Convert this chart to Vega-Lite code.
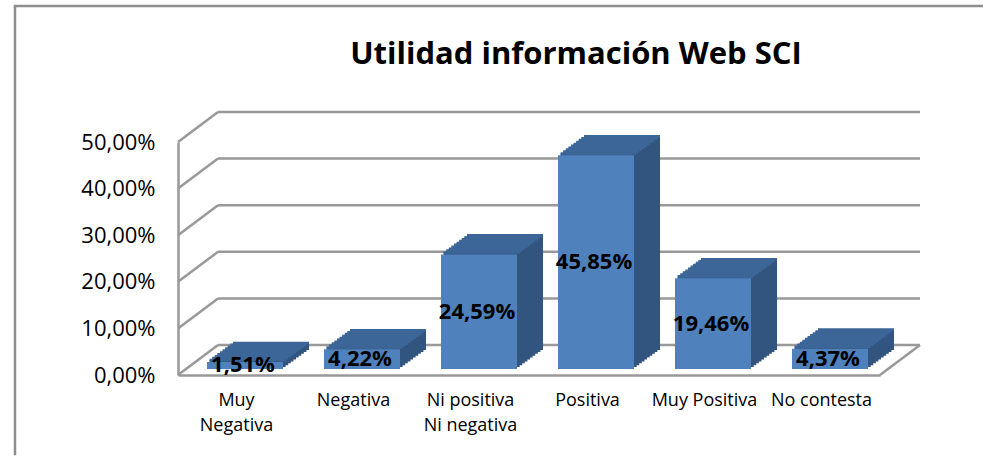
{
  "$schema": "https://vega.github.io/schema/vega-lite/v6.json",
  "width": 702,
  "height": 233,
  "autosize": "none",
  "padding": {"left": 178, "top": 142, "right": 105, "bottom": 82},
  "background": "#FFFFFF",
  "title": {
    "text": "Utilidad información Web SCI",
    "font": "Open Sans",
    "fontSize": 31,
    "fontWeight": "bold",
    "color": "#000000",
    "anchor": "middle",
    "frame": "group",
    "baseline": "alphabetic",
    "offset": 0,
    "dx": 47,
    "dy": 90
  },
  "config": {
    "locale": {"number": {"decimal": ",", "thousands": ".", "grouping": [3], "currency": ["", " €"]}},
    "view": {"stroke": null},
    "axis": {"labelFont": "Open Sans", "labelColor": "#000000", "domainColor": "#999999", "domainWidth": 2.5}
  },
  "datasets": {
    "bars": [
      {"cat": "Muy Negativa", "value": 0.0151},
      {"cat": "Negativa", "value": 0.0422},
      {"cat": "Ni positiva Ni negativa", "value": 0.2459},
      {"cat": "Positiva", "value": 0.4585},
      {"cat": "Muy Positiva", "value": 0.1946},
      {"cat": "No contesta", "value": 0.0437}
    ],
    "grid": [{"v": 0}, {"v": 0.1}, {"v": 0.2}, {"v": 0.3}, {"v": 0.4}, {"v": 0.5}]
  },
  "resolve": {"scale": {"x": "independent", "y": "independent"}},
  "layer": [
    {
      "layer": [
        {
          "data": {"values": [{"frame": "left"}]},
          "mark": {"type": "rule", "color": "#8E8E8E", "strokeWidth": 2.5},
          "encoding": {
            "x": {"datum": -1.39316, "type": "quantitative", "axis": null, "scale": {"domain": [0, 6], "nice": false, "zero": false}},
            "y": {"datum": 0.79185, "type": "quantitative", "axis": null, "title": null, "scale": {"domain": [0, 0.5], "nice": false, "zero": false}},
            "y2": {"datum": -0.172}
          }
        },
        {
          "data": {"values": [{"frame": "top"}]},
          "mark": {"type": "rule", "color": "#8E8E8E", "strokeWidth": 2.5},
          "encoding": {
            "x": {"datum": -1.40385, "type": "quantitative", "axis": null, "scale": {"domain": [0, 6], "nice": false, "zero": false}},
            "x2": {"datum": 6.88},
            "y": {"datum": 0.79185, "type": "quantitative", "axis": null, "title": null, "scale": {"domain": [0, 0.5], "nice": false, "zero": false}}
          }
        },
        {
          "data": {"name": "grid"},
          "mark": {"type": "rule", "color": "#999999", "strokeWidth": 2.5, "xOffset": 40, "x2Offset": 40, "yOffset": -30},
          "encoding": {
            "x": {"datum": 0, "type": "quantitative", "axis": null, "scale": {"domain": [0, 6], "nice": false, "zero": false}},
            "x2": {"datum": 6},
            "y": {"field": "v", "type": "quantitative", "axis": null, "title": null, "scale": {"domain": [0, 0.5], "nice": false, "zero": false}}
          }
        },
        {
          "data": {"name": "grid"},
          "mark": {"type": "rule", "color": "#999999", "strokeWidth": 2.5, "x2Offset": 40, "y2Offset": -30},
          "encoding": {
            "x": {"datum": 0, "type": "quantitative", "axis": null, "scale": {"domain": [0, 6], "nice": false, "zero": false}},
            "x2": {"datum": 0},
            "y": {"field": "v", "type": "quantitative", "axis": null, "title": null, "scale": {"domain": [0, 0.5], "nice": false, "zero": false}},
            "y2": {"field": "v"}
          }
        },
        {
          "data": {"values": [{"edge": "floor"}]},
          "mark": {"type": "rule", "color": "#999999", "strokeWidth": 2.5, "x2Offset": 40, "y2Offset": -30},
          "encoding": {
            "x": {"datum": 6, "type": "quantitative", "axis": null, "scale": {"domain": [0, 6], "nice": false, "zero": false}},
            "x2": {"datum": 6},
            "y": {"datum": 0, "type": "quantitative", "axis": null, "title": null, "scale": {"domain": [0, 0.5], "nice": false, "zero": false}},
            "y2": {"datum": 0}
          }
        }
      ]
    },
    {
      "data": {"name": "bars"},
      "encoding": {
        "x": {
          "field": "cat", "type": "nominal", "sort": null, "title": null,
          "scale": {"type": "band", "paddingInner": 0, "paddingOuter": 0},
          "axis": {
            "orient": "bottom", "domain": true, "ticks": false, "grid": false,
            "labelAngle": 0, "labelFontSize": 18, "labelPadding": 16, "labelLineHeight": 25,
            "labelOverlap": false, "labelBaseline": "top",
            "labelExpr": "datum.value == 'Muy Negativa' ? ['Muy', 'Negativa'] : datum.value == 'Ni positiva Ni negativa' ? ['Ni positiva', 'Ni negativa'] : datum.value"
          }
        },
        "y": {
          "field": "value", "type": "quantitative", "title": null,
          "scale": {"domain": [0, 0.5], "nice": false, "zero": false},
          "axis": {
            "values": [0, 0.1, 0.2, 0.3, 0.4, 0.5], "format": ".2%", "domain": true, "ticks": false, "grid": false,
            "labelPadding": 23, "labelFontSize": 22
          }
        }
      },
      "layer": [
        {"mark": {"type": "bar", "width": {"band": 0.65}, "color": "#32557F", "xOffset": 11.1, "yOffset": -7.9, "y2Offset": -7.9}, "encoding": {"y2": {"datum": 0}}},
        {"mark": {"type": "bar", "width": {"band": 0.65}, "color": "#32557F", "xOffset": 13.7, "yOffset": -9.8, "y2Offset": -9.8}, "encoding": {"y2": {"datum": 0}}},
        {"mark": {"type": "bar", "width": {"band": 0.65}, "color": "#32557F", "xOffset": 16.3, "yOffset": -11.7, "y2Offset": -11.7}, "encoding": {"y2": {"datum": 0}}},
        {"mark": {"type": "bar", "width": {"band": 0.65}, "color": "#32557F", "xOffset": 18.9, "yOffset": -13.6, "y2Offset": -13.6}, "encoding": {"y2": {"datum": 0}}},
        {"mark": {"type": "bar", "width": {"band": 0.65}, "color": "#32557F", "xOffset": 21.5, "yOffset": -15.5, "y2Offset": -15.5}, "encoding": {"y2": {"datum": 0}}},
        {"mark": {"type": "bar", "width": {"band": 0.65}, "color": "#32557F", "xOffset": 24.1, "yOffset": -17.4, "y2Offset": -17.4}, "encoding": {"y2": {"datum": 0}}},
        {"mark": {"type": "bar", "width": {"band": 0.65}, "color": "#32557F", "xOffset": 26.7, "yOffset": -19.3, "y2Offset": -19.3}, "encoding": {"y2": {"datum": 0}}},
        {"mark": {"type": "bar", "width": {"band": 0.65}, "color": "#32557F", "xOffset": 29.3, "yOffset": -21.2, "y2Offset": -21.2}, "encoding": {"y2": {"datum": 0}}},
        {"mark": {"type": "bar", "width": {"band": 0.65}, "color": "#32557F", "xOffset": 31.9, "yOffset": -23.1, "y2Offset": -23.1}, "encoding": {"y2": {"datum": 0}}},
        {"mark": {"type": "bar", "width": {"band": 0.65}, "color": "#32557F", "xOffset": 34.5, "yOffset": -25, "y2Offset": -25}, "encoding": {"y2": {"datum": 0}}},
        {"mark": {"type": "tick", "orient": "horizontal", "size": 76, "thickness": 2.6, "opacity": 1, "color": "#3D6698", "xOffset": 11.1, "yOffset": -7.9}},
        {"mark": {"type": "tick", "orient": "horizontal", "size": 76, "thickness": 2.6, "opacity": 1, "color": "#3D6698", "xOffset": 13.7, "yOffset": -9.8}},
        {"mark": {"type": "tick", "orient": "horizontal", "size": 76, "thickness": 2.6, "opacity": 1, "color": "#3D6698", "xOffset": 16.3, "yOffset": -11.7}},
        {"mark": {"type": "tick", "orient": "horizontal", "size": 76, "thickness": 2.6, "opacity": 1, "color": "#3D6698", "xOffset": 18.9, "yOffset": -13.6}},
        {"mark": {"type": "tick", "orient": "horizontal", "size": 76, "thickness": 2.6, "opacity": 1, "color": "#3D6698", "xOffset": 21.5, "yOffset": -15.5}},
        {"mark": {"type": "tick", "orient": "horizontal", "size": 76, "thickness": 2.6, "opacity": 1, "color": "#3D6698", "xOffset": 24.1, "yOffset": -17.4}},
        {"mark": {"type": "tick", "orient": "horizontal", "size": 76, "thickness": 2.6, "opacity": 1, "color": "#3D6698", "xOffset": 26.7, "yOffset": -19.3}},
        {"mark": {"type": "tick", "orient": "horizontal", "size": 76, "thickness": 2.6, "opacity": 1, "color": "#3D6698", "xOffset": 29.3, "yOffset": -21.2}},
        {"mark": {"type": "tick", "orient": "horizontal", "size": 76, "thickness": 2.6, "opacity": 1, "color": "#3D6698", "xOffset": 31.9, "yOffset": -23.1}},
        {"mark": {"type": "tick", "orient": "horizontal", "size": 76, "thickness": 2.6, "opacity": 1, "color": "#3D6698", "xOffset": 34.5, "yOffset": -25}},
        {"mark": {"type": "bar", "width": {"band": 0.65}, "color": "#4F81BD", "xOffset": 8.5, "yOffset": -6, "y2Offset": -6}, "encoding": {"y2": {"datum": 0}}}
      ]
    },
    {
      "data": {"name": "bars"},
      "mark": {"type": "text", "font": "Open Sans", "fontSize": 22, "fontWeight": "bold", "color": "#000000", "align": "center", "baseline": "middle", "xOffset": 6.5, "yOffset": -6},
      "encoding": {
        "x": {"field": "cat", "type": "nominal", "sort": null, "axis": null, "scale": {"type": "band", "paddingInner": 0, "paddingOuter": 0}},
        "y": {"field": "value", "type": "quantitative", "axis": null, "scale": {"domain": [0, 1], "nice": false, "zero": false}},
        "text": {"field": "value", "type": "quantitative", "format": ".2%"}
      }
    }
  ]
}
